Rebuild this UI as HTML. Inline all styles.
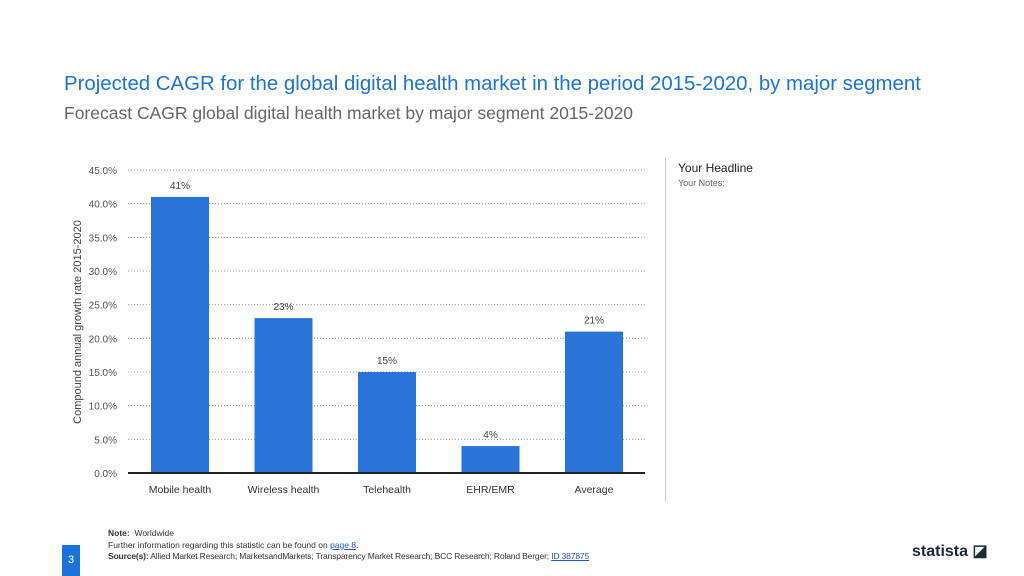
<!DOCTYPE html>
<html><head><meta charset="utf-8"><style>
body{margin:0;width:1024px;height:576px;background:#fff;font-family:"Liberation Sans",sans-serif;position:relative;overflow:hidden}
.a{position:absolute;white-space:nowrap}
</style></head><body>
<div class="a" style="left:64px;top:73px;font-size:20.4px;color:#1a73d9">Projected CAGR for the global digital health market in the period 2015-2020, by major segment</div>
<div class="a" style="left:64px;top:103px;font-size:17.5px;color:#666">Forecast CAGR global digital health market by major segment 2015-2020</div>
<div class="a" style="left:665px;top:158px;width:1px;height:344px;background:#ccc"></div>
<div class="a" style="left:678px;top:161px;font-size:12px;color:#222">Your Headline</div>
<div class="a" style="left:678px;top:178px;font-size:9px;color:#666">Your Notes:</div>
<svg class="a" style="left:0;top:0" width="1024" height="576">
<g id="g"></g>
<text transform="translate(81,322) rotate(-90)" text-anchor="middle" font-size="11" fill="#444" font-family="Liberation Sans">Compound annual growth rate 2015-2020</text>
</svg>
<div class="a" style="left:108px;top:528px;font-size:8.5px;color:#333"><b>Note:</b>&nbsp; Worldwide</div>
<div class="a" style="left:108px;top:540px;font-size:8.5px;color:#333">Further information regarding this statistic can be found on <u style="color:#2255cc">page 8</u>.</div>
<div class="a" style="left:108px;top:551px;font-size:8.5px;color:#333;letter-spacing:-0.15px"><b>Source(s):</b> Allied Market Research; MarketsandMarkets; Transparency Market Research; BCC Research; Roland Berger; <u style="color:#2255cc">ID 387875</u></div>
<div class="a" style="left:62px;top:545px;width:18px;height:31px;background:#1a73d9;color:#fff;font-size:11px;text-align:center;line-height:31px">3</div>
<div class="a" style="left:912px;top:541px;font-size:16px;font-weight:bold;color:#1a2a3a">statista ◪</div>
<script>
const categories=["Mobile health","Wireless health","Telehealth","EHR/EMR","Average"];
const values=[41,23,15,4,21];
const labels=["41%","23%","15%","4%","21%"];
const ticks=[0,5,10,15,20,25,30,35,40,45];
const g=document.getElementById('g'),NS='http://www.w3.org/2000/svg';
const y=v=>473-v*(303/45), x=i=>180+i*103.5;
function mk(t,a,txt){const e=document.createElementNS(NS,t);for(const k in a)e.setAttribute(k,a[k]);if(txt!==undefined)e.textContent=txt;g.appendChild(e);return e;}
ticks.forEach(t=>{
 const l=mk('line',{x1:128,x2:645,y1:y(t),y2:y(t),stroke:t?'#999':'#222','stroke-width':t?1:2,'stroke-dasharray':t?'1,2':''});
 
 
 const s=mk('text',{x:117,y:y(t)+4,'text-anchor':'end','font-size':10,fill:'#555','font-family':'Liberation Sans'},t.toFixed(1)+'%');
 
 
});
values.forEach((v,i)=>{
 const r=mk('rect',{x:x(i)-29,y:y(v),width:58,height:473-y(v)-1,fill:'#2a74d8'});
 
 
 const t=mk('text',{x:x(i),y:y(v)-8,'text-anchor':'middle','font-size':10,fill:'#444','font-family':'Liberation Sans'},labels[i]);
 
 
 const c=mk('text',{x:x(i),y:493,'text-anchor':'middle','font-size':10.5,fill:'#333','font-family':'Liberation Sans'},categories[i]);
 
 
});
</script>
</body></html>
